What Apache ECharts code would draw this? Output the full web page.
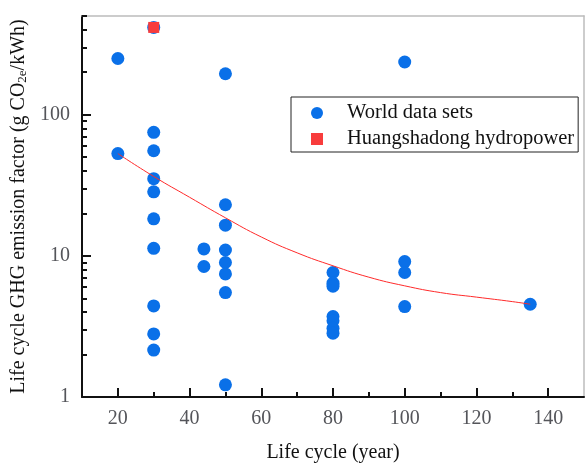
<!DOCTYPE html>
<html>
<head>
<meta charset="utf-8">
<script src="https://cdn.jsdelivr.net/npm/echarts@6/dist/echarts.min.js"></script>
<style>
  html, body { margin: 0; padding: 0; background: #fff; }
  #chart { width: 585px; height: 468px; }
</style>
</head>
<body>
<div id="chart"></div>
<script>
// World data sets: life cycle (year) vs emission factor (g CO2e/kWh)
const worldYears = [20, 20, 30, 30, 30, 30, 30, 30, 30, 30, 30, 30,
  44, 44, 50, 50, 50, 50, 50, 50, 50, 50,
  80, 80, 80, 80, 80, 80, 80, 100, 100, 100, 100, 135];
const worldValues = [250, 53, 415, 75, 55.5, 35.2, 28.4, 18.3, 11.3, 4.42, 2.8, 2.15,
  11.2, 8.4, 195, 23, 16.5, 11.0, 8.97, 7.45, 5.49, 1.22,
  7.62, 6.4, 6.1, 3.71, 3.47, 3.07, 2.83, 236, 9.11, 7.62, 4.37, 4.54];

const hsdYears = [30];
const hsdValues = [415];

// fitted curve
const fitYears = [20, 30, 40, 50, 60, 70, 80, 90, 100, 110, 120, 130, 135];
const fitValues = [53, 36.5, 26, 18.6, 13.6, 10.5, 8.5, 7.06, 6.13, 5.49, 5.1, 4.74, 4.54];

const xMajorTicks = [20, 40, 60, 80, 100, 120, 140];
const xMinorTicks = [30, 50, 70, 90, 110, 130];
const yMajorTicks = [1, 10, 100];
const yMinorTicks = [2, 3, 4, 5, 6, 7, 8, 9, 20, 30, 40, 50, 60, 70, 80, 90, 200, 300, 400, 500];

const font = "'Liberation Serif', 'DejaVu Serif', serif";

const chart = echarts.init(document.getElementById("chart"));

const pairs = (xs, ys) => xs.map((x, i) => [x, ys[i]]);

const tickStyle = { color: "#111", width: 2 };
const frameAxis = { show: true, lineStyle: { color: "#bcbcbc", width: 1.5 } };

const option = {
  animation: false,
  textStyle: { fontFamily: font, fontSize: 20, color: "#111" },
  grid: { left: 82, right: 1, top: 16, bottom: 71, outerBoundsMode: "none" },
  legend: {
    orient: "vertical",
    left: 291,
    top: 97,
    padding: [5, 4, 2, 20],
    itemGap: 4,
    itemWidth: 50,
    itemHeight: 12,
    borderColor: "#222",
    borderWidth: 1,
    backgroundColor: "#fff",
    textStyle: { fontFamily: font, fontSize: 20.5, color: "#111", lineHeight: 22 },
    data: [
      { name: "World data sets", icon: "circle" },
      { name: "Huangshadong hydropower", icon: "path://M0,0H10V10H0Z" },
    ],
  },
  xAxis: [
    {
      type: "value",
      min: 10,
      max: 150,
      position: "bottom",
      name: "Life cycle (year)",
      nameLocation: "middle",
      nameGap: 46,
      axisLine: { show: true, onZero: false, lineStyle: { color: "#111", width: 2 } },
      axisTick: { show: true, inside: true, length: 9, customValues: xMajorTicks, lineStyle: tickStyle },
      axisLabel: { customValues: xMajorTicks, margin: 12, fontFamily: font, fontSize: 20 },
      splitLine: { show: false },
    },
    {
      type: "value",
      min: 10,
      max: 150,
      position: "bottom",
      axisLine: { show: false, onZero: false },
      axisTick: { show: true, inside: true, length: 5, customValues: xMinorTicks, lineStyle: tickStyle },
      axisLabel: { show: false },
      splitLine: { show: false },
    },
    {
      type: "value",
      min: 10,
      max: 150,
      position: "top",
      axisLine: frameAxis,
      axisTick: { show: false },
      axisLabel: { show: false },
      splitLine: { show: false },
    },
  ],
  yAxis: [
    {
      type: "log",
      min: 1,
      max: 500,
      position: "left",
      name: "Life cycle GHG emission factor (g CO{sub|2e}/kWh)",
      nameLocation: "middle",
      nameGap: 50,
      nameTextStyle: {
        rich: {
          sub: { fontSize: 13, verticalAlign: "bottom" },
        },
      },
      axisLine: { show: true, onZero: false, lineStyle: { color: "#111", width: 2 } },
      axisTick: { show: true, inside: true, length: 9, customValues: yMajorTicks, lineStyle: tickStyle },
      axisLabel: { customValues: yMajorTicks, margin: 12, fontFamily: font, fontSize: 20 },
      splitLine: { show: false },
    },
    {
      type: "log",
      min: 1,
      max: 500,
      position: "left",
      axisLine: { show: false, onZero: false },
      axisTick: { show: true, inside: true, length: 5, customValues: yMinorTicks, lineStyle: tickStyle },
      axisLabel: { show: false },
      splitLine: { show: false },
    },
    {
      type: "log",
      min: 1,
      max: 500,
      position: "right",
      axisLine: frameAxis,
      axisTick: { show: false },
      axisLabel: { show: false },
      splitLine: { show: false },
    },
  ],
  series: [
    {
      name: "World data sets",
      type: "scatter",
      symbol: "circle",
      symbolSize: 13,
      itemStyle: { color: "#0a70e8", opacity: 1 },
      data: pairs(worldYears, worldValues),
    },
    {
      name: "Huangshadong hydropower",
      type: "scatter",
      symbol: "rect",
      symbolSize: 11,
      itemStyle: { color: "#f83c3c", opacity: 1 },
      data: pairs(hsdYears, hsdValues),
    },
    {
      name: "fit",
      type: "line",
      smooth: true,
      showSymbol: false,
      lineStyle: { color: "#ff2a2a", width: 1 },
      data: pairs(fitYears, fitValues),
    },
  ],
};

chart.setOption(option);
</script>
</body>
</html>
